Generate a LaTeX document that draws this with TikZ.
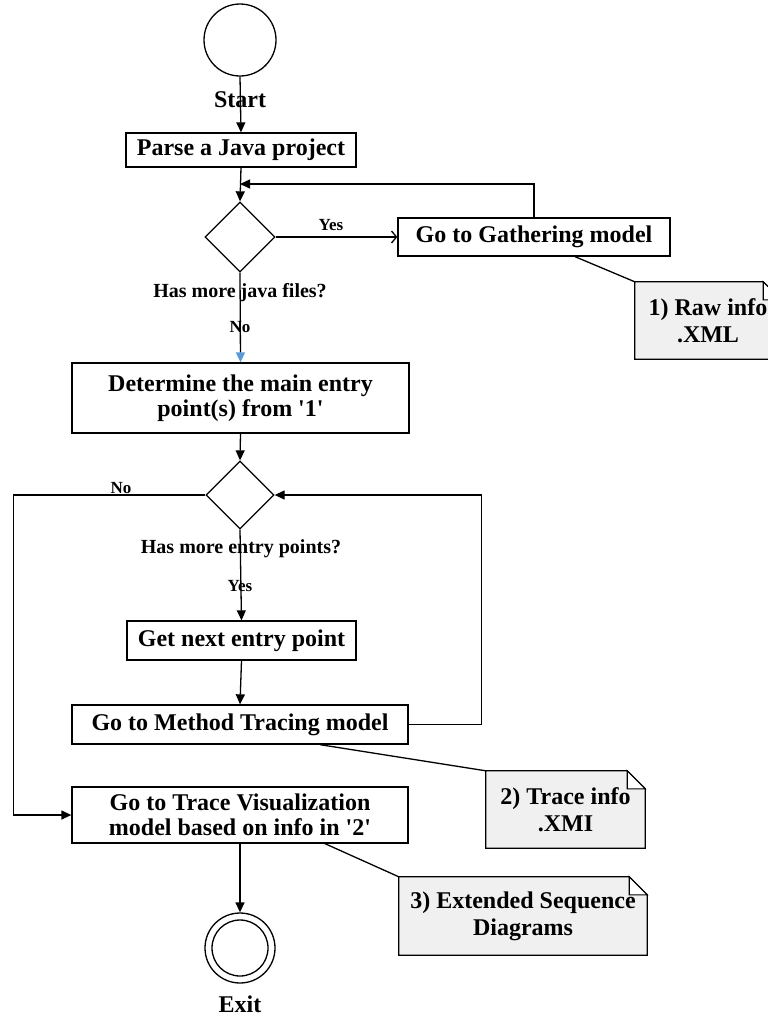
\documentclass[tikz,border=0pt]{standalone}
\usepackage{fontspec}
\setmainfont{Liberation Serif}[Ligatures=TeXOff]
\usetikzlibrary{arrows.meta,shapes.geometric}
\pgfdeclarelayer{background}
\pgfsetlayers{background,main}
\definecolor{notegray}{RGB}{240,240,240}
\definecolor{tipblue}{RGB}{91,155,213}

\tikzset{
  flow/.style={line width=1.3pt},
  arr/.style={flow, -{Triangle[length=10pt,width=9pt]}},
  bluearr/.style={flow, -{Triangle[length=10pt,width=9pt,color=tipblue]}},
  openarr/.style={flow, -{Straight Barb[length=5pt,width=12pt]}},
  actbox/.style={draw, line width=1.3pt, rectangle, inner sep=0pt, align=center,
    font=\fontsize{24}{25}\selectfont\bfseries},
  choice/.style={draw, line width=1.3pt, diamond, inner sep=0pt, aspect=1},
  terminal/.style={draw, line width=1.3pt, circle, inner sep=0pt},
  bigtext/.style={inner sep=0pt, font=\fontsize{24}{26}\selectfont\bfseries},
  guard/.style={inner sep=0pt, font=\fontsize{20}{22}\selectfont\bfseries},
  branch/.style={inner sep=0pt, font=\fontsize{17}{19}\selectfont\bfseries},
  notebox/.style={inner sep=0pt, align=center, font=\fontsize{24}{27}\selectfont\bfseries},
  notelink/.style={line width=1.3pt},
}

% folded-corner outline behind a note node
\newcommand{\dogear}[1]{%
  \begin{pgfonlayer}{background}
    \draw[line width=1.3pt, fill=notegray]
      (#1.north west) -- ([xshift=-18pt]#1.north east)
      -- ([yshift=-18pt]#1.north east) -- (#1.south east)
      -- (#1.south west) -- cycle;
    \draw[line width=1.1pt, fill=white]
      ([xshift=-18pt]#1.north east) -- ([xshift=-18pt,yshift=-18pt]#1.north east)
      -- ([yshift=-18pt]#1.north east) -- cycle;
  \end{pgfonlayer}}

\begin{document}
\begin{tikzpicture}[x=1pt,y=-1pt]
  \useasboundingbox (0,0) rectangle (768,1018);
  \begin{pgfonlayer}{background}
    \fill[white] (0,0) rectangle (768,1018);
  \end{pgfonlayer}
  \clip (0,0) rectangle (768,1018);

  % start
  \node[terminal, minimum size=72pt] (start) at (240,40) {};
  \node[bigtext] (startlbl) at (240,100) {Start};

  % actions and decisions
  \node[actbox, minimum width=230pt, minimum height=34pt] (parse) at (241,150) {Parse a Java project};
  \node[choice, minimum width=70pt, minimum height=70pt] (d1) at (240,237) {};
  \node[actbox, minimum width=272pt, minimum height=38pt] (gather) at (534,237) {Go to Gathering model};
  \node[guard] (q1) at (240,293) {Has more java files?};
  \node[branch] (no1) at (240,327) {No};
  \node[branch] (yes1) at (331,225) {Yes};

  \node[actbox, minimum width=337pt, minimum height=70pt] (determine) at (240.5,398)
    {Determine the main entry\\point(s) from '1'};
  \node[choice, minimum width=68pt, minimum height=68pt] (d2) at (240,495) {};
  \node[guard] (q2) at (241,549) {Has more entry points?};
  \node[branch] (yes2) at (240,586) {Yes};
  \node[branch] (no2) at (121,488) {No};

  \node[actbox, minimum width=229pt, minimum height=39pt] (next) at (241.5,640.5) {Get next entry point};
  \node[actbox, minimum width=336pt, minimum height=39pt] (method) at (240,724.5) {Go to Method Tracing model};
  \node[actbox, minimum width=336pt, minimum height=56pt] (tracevis) at (240,815)
    {Go to Trace Visualization\\model based on info in '2'};

  % exit
  \node[terminal, minimum size=70pt] (exit) at (240,948) {};
  \draw[flow] (exit.center) circle[radius=28pt];
  \node[bigtext] (exitlbl) at (240,1004) {Exit};

  % notes
  \node[notebox, minimum width=146pt, minimum height=77pt] (raw) at (708,320.5) {1) Raw info\\.XML};
  \dogear{raw}
  \node[notebox, minimum width=159pt, minimum height=77pt] (traceinfo) at (565.5,809.5) {2) Trace info\\.XMI};
  \dogear{traceinfo}
  \node[notebox, minimum width=248pt, minimum height=78pt] (seqdiag) at (523,916) {3) Extended Sequence\\Diagrams};
  \dogear{seqdiag}

  % control flow
  \coordinate (merge) at (240,184);
  \draw[arr] (start.south) -- (parse.north);
  \draw[arr] (parse.south) -- (d1.north);
  \draw[openarr] (d1.east) -- (gather.west);
  \draw[arr] (gather.north) |- (merge);
  \draw[bluearr] (d1.south) -- (determine.north);
  \draw[arr] (determine.south) -- (d2.north);
  \draw[arr] (d2.south) -- (next.north);
  \draw[arr] (next.south) -- (method.north);
  \draw[arr] (method.east) -- ++(73,0) |- (d2.east);
  \draw[arr] (d2.west) -- ++(-192,0) |- (tracevis.west);
  \draw[arr] (tracevis.south) -- (exit.north);

  % note links
  \draw[notelink] ([xshift=41pt]gather.south) -- (raw.north west);
  \draw[notelink] ([xshift=80pt]method.south) -- (traceinfo.north west);
  \draw[notelink] ([xshift=85pt]tracevis.south) -- (seqdiag.north west);
\end{tikzpicture}
\end{document}
